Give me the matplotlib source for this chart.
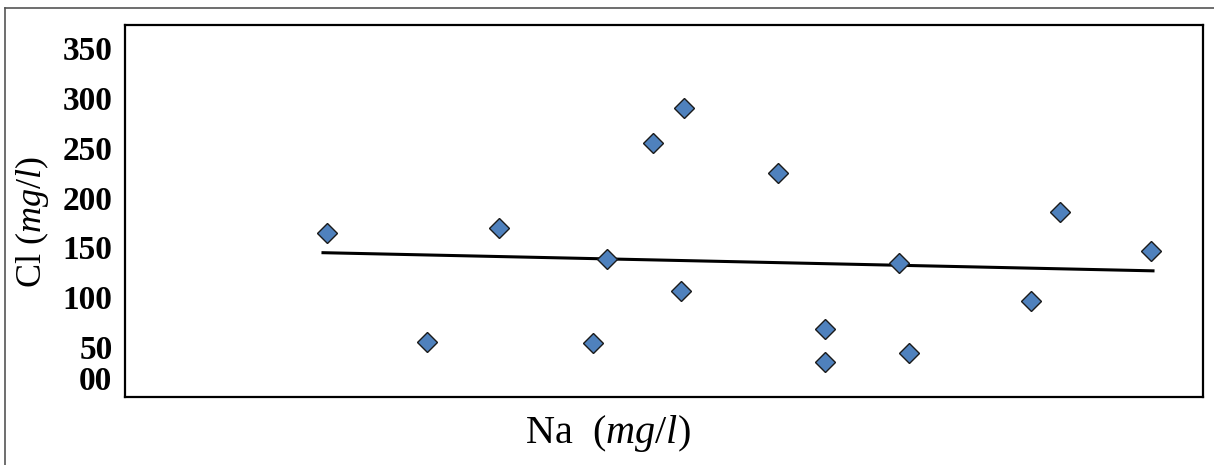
import numpy as np
import matplotlib
matplotlib.use("Agg")
import matplotlib.pyplot as plt
from matplotlib.lines import Line2D

# Data (x axis has no tick labels)
na = [101, 151, 187, 234, 241, 264, 278, 279.5, 326.6, 350, 350, 387, 392, 453, 467.5, 513]
cl = [164, 55, 169, 54.5, 138, 254.5, 106.5, 290, 224.5, 68, 35.5, 134.5, 44, 96.5, 185.5, 146.5]
y_ticks = [0, 50, 100, 150, 200, 250, 300, 350]
y_tick_labels = ["00", "50", "100", "150", "200", "250", "300", "350"]

plt.rcParams['font.family'] = ['Liberation Serif', 'DejaVu Serif']
plt.rcParams['mathtext.fontset'] = 'custom'
plt.rcParams['mathtext.rm'] = 'Liberation Serif'
plt.rcParams['mathtext.it'] = 'Liberation Serif:italic'
plt.rcParams['mathtext.bf'] = 'Liberation Serif:bold'

fig = plt.figure(figsize=(12.14, 4.65), dpi=100)
ax = fig.add_axes([125/1214, 1-397/465, (1203-125)/1214, (397-25)/465])

ax.plot(na, cl, linestyle='none', marker='D', markersize=10.5,
        markerfacecolor='#4F81BD', markeredgecolor='#1a1a1a', markeredgewidth=1.0, zorder=3)

# linear trend line
coef = np.polyfit(na, cl, 1)
xs = np.array([min(na) - 2, max(na) + 1])
ax.plot(xs, np.polyval(coef, xs), color='black', linewidth=2.2, zorder=2)

ax.set_xlim(0, 539)
ax.set_ylim(0, 373)
ax.set_xticks([])
ax.set_yticks(y_ticks)
ax.set_yticklabels(y_tick_labels, fontsize=24, fontweight='bold')
ax.tick_params(axis='y', length=0, pad=9)
lbls = ax.get_yticklabels()
lbls[0].set_verticalalignment('bottom')

for s in ax.spines.values():
    s.set_linewidth(1.6)
    s.set_color('black')

ax.set_ylabel(r"Cl ($\mathit{mg/l}$)", fontsize=26)
ax.yaxis.set_label_coords(-0.069, 0.47)

fig.text(608/1214, 1-433/465, r"Na  ($\mathit{mg/l}$)", fontsize=29, ha='center', va='center')

# outer frame (top and left edges visible)
fig.add_artist(Line2D([5/1214, 5/1214], [0, 1-8/465], transform=fig.transFigure, color='#555555', linewidth=1.2))
fig.add_artist(Line2D([5/1214, 1], [1-8/465, 1-8/465], transform=fig.transFigure, color='#555555', linewidth=1.2))

fig.savefig("out.png", dpi=100)
